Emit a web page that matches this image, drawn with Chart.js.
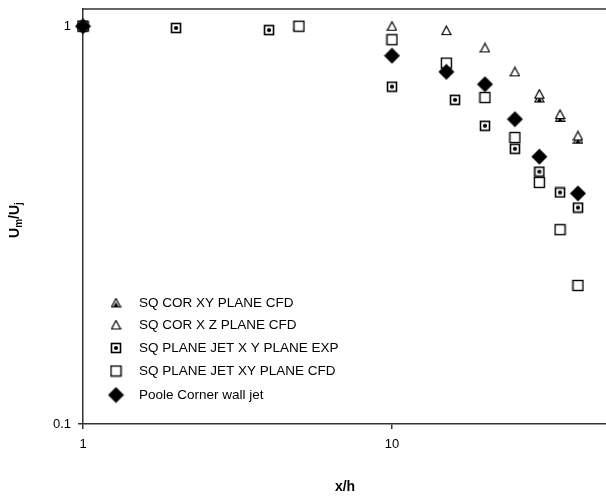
<!DOCTYPE html>
<html>
<head>
<meta charset="utf-8">
<script src="https://cdn.jsdelivr.net/npm/chart.js@4.4.1/dist/chart.umd.min.js"></script>
<style>
  body { margin: 0; background: #fff; }
  #wrap { width: 606px; height: 498px; }
</style>
</head>
<body>
<div id="wrap"><canvas id="jetChart" width="606" height="498"></canvas></div>
<script>
// series values
const corXyX = [1, 30, 35, 40];
const corXyY = [1.0, 0.66, 0.59, 0.52];
const corXzX = [1, 5, 10, 15, 20, 25, 30, 35, 40];
const corXzY = [1.0, 1.0, 1.0, 0.975, 0.882, 0.768, 0.675, 0.6, 0.53];
const jetExpX = [1, 2, 4, 10, 16, 20, 25, 30, 35, 40];
const jetExpY = [1.0, 0.99, 0.978, 0.705, 0.653, 0.562, 0.492, 0.431, 0.382, 0.35];
const jetCfdX = [1, 5, 10, 15, 20, 25, 30, 35, 40];
const jetCfdY = [1.0, 1.0, 0.925, 0.808, 0.662, 0.525, 0.405, 0.308, 0.223];
const pooleX = [1, 10, 15, 20, 25, 30, 40];
const pooleY = [1.0, 0.843, 0.768, 0.715, 0.584, 0.47, 0.38];
const seriesNames = [
  "SQ COR XY PLANE CFD",
  "SQ COR X Z PLANE CFD",
  "SQ PLANE JET X Y PLANE EXP",
  "SQ PLANE JET XY PLANE CFD",
  "Poole Corner wall jet"
];
const xTicks = [1, 10];
const yTicks = [0.1, 1];

const FONT = "'Liberation Sans', Arial, sans-serif";

function toPoints(xs, ys) {
  return xs.map((x, i) => ({x: x, y: ys[i]}));
}

// little marker images
function marker(size, draw) {
  const c = document.createElement("canvas");
  c.width = size; c.height = size;
  const g = c.getContext("2d");
  draw(g, size);
  return c;
}

const triOpen = marker(11, (g) => {
  g.beginPath();
  g.moveTo(5.5, 1); g.lineTo(10, 9.5); g.lineTo(1, 9.5); g.closePath();
  g.fillStyle = "#fff"; g.fill();
  g.lineWidth = 1.2; g.strokeStyle = "#000"; g.stroke();
});
const triXy = marker(11, (g) => {
  g.beginPath();
  g.moveTo(5.5, 1); g.lineTo(10, 9.5); g.lineTo(1, 9.5); g.closePath();
  g.fillStyle = "#fff"; g.fill();
  g.lineWidth = 1.2; g.strokeStyle = "#000"; g.stroke();
  g.beginPath();
  g.moveTo(5.5, 4.5); g.lineTo(8, 9); g.lineTo(3, 9); g.closePath();
  g.fillStyle = "#000"; g.fill();
});
const sqDot = marker(12, (g) => {
  g.fillStyle = "#fff"; g.fillRect(1, 1, 10, 10);
  g.lineWidth = 1.6; g.strokeStyle = "#000"; g.strokeRect(1.5, 1.5, 9, 9);
  g.beginPath(); g.arc(6, 6, 2.1, 0, Math.PI * 2); g.fillStyle = "#000"; g.fill();
});
const sqOpen = marker(13, (g) => {
  g.fillStyle = "#fff"; g.fillRect(1, 1, 11, 11);
  g.lineWidth = 1.4; g.strokeStyle = "#000"; g.strokeRect(1.5, 1.5, 10, 10);
});
const diamond = marker(17, (g) => {
  g.beginPath();
  g.moveTo(8.5, 0.5); g.lineTo(16.5, 8.5); g.lineTo(8.5, 16.5); g.lineTo(0.5, 8.5); g.closePath();
  g.fillStyle = "#000"; g.fill();
});
const markers = [triXy, triOpen, sqDot, sqOpen, diamond];

// legend, frame and the y title with subscripts
const extras = {
  id: "extras",
  afterDraw(chart) {
    const ctx = chart.ctx;
    const a = chart.chartArea;
    ctx.save();
    ctx.strokeStyle = "#333";
    ctx.lineWidth = 1.5;
    ctx.beginPath();
    ctx.moveTo(a.left, a.top); ctx.lineTo(a.right, a.top);
    ctx.stroke();

    const rows = [303, 325, 348, 371, 395];
    ctx.font = "13.5px " + FONT;
    ctx.fillStyle = "#000";
    ctx.textBaseline = "middle";
    ctx.textAlign = "left";
    chart.data.datasets.forEach((ds, i) => {
      const m = markers[i];
      ctx.drawImage(m, 116 - m.width / 2, rows[i] - m.height / 2);
      ctx.fillText(ds.label, 139, rows[i]);
    });

    // x title
    ctx.font = "bold 14px " + FONT;
    ctx.textAlign = "center";
    ctx.fillText("x/h", 345, 487);

    // y title, rotated
    ctx.translate(15, 220);
    ctx.rotate(-Math.PI / 2);
    ctx.textAlign = "left";
    ctx.textBaseline = "middle";
    const parts = [["U", false], ["m", true], ["/U", false], ["j", true]];
    const big = "bold 14px " + FONT, small = "bold 10px " + FONT;
    let w = 0;
    parts.forEach(p => { ctx.font = p[1] ? small : big; w += ctx.measureText(p[0]).width; });
    let x = -w / 2;
    parts.forEach(p => {
      ctx.font = p[1] ? small : big;
      ctx.fillText(p[0], x, p[1] ? 4 : 0);
      x += ctx.measureText(p[0]).width;
    });
    ctx.restore();
  }
};

const xs = [corXyX, corXzX, jetExpX, jetCfdX, pooleX];
const ys = [corXyY, corXzY, jetExpY, jetCfdY, pooleY];
const drawOrder = [4, 3, 2, 1, 0];

new Chart("jetChart", {
  type: "scatter",
  data: {
    datasets: seriesNames.map((name, i) => ({
      label: name,
      data: toPoints(xs[i], ys[i]),
      pointStyle: markers[i],
      pointRadius: 6,
      clip: false,
      order: drawOrder[i]
    }))
  },
  options: {
    responsive: false,
    animation: false,
    layout: { autoPadding: false, padding: { top: 9, right: 0, left: 0, bottom: 0 } },
    plugins: {
      legend: { display: false },
      tooltip: { enabled: false }
    },
    scales: {
      x: {
        type: "logarithmic",
        min: 1,
        max: 49.3,
        afterBuildTicks: (s) => { s.ticks = xTicks.map(v => ({value: v})); },
        afterFit: (s) => { s.height = 74; s.paddingLeft = 0; s.paddingRight = 0; },
        ticks: {
          callback: (v) => String(v),
          color: "#000",
          font: { size: 13, family: FONT },
          padding: 8,
          maxRotation: 0
        },
        grid: { display: true, drawOnChartArea: false, drawTicks: true, tickLength: 5, color: "#333", lineWidth: 1.5 },
        border: { display: true, color: "#333", width: 1.5 }
      },
      y: {
        type: "logarithmic",
        min: 0.1,
        max: 1.105,
        afterBuildTicks: (s) => { s.ticks = yTicks.map(v => ({value: v})); },
        afterFit: (s) => { s.width = 83; s.paddingTop = 0; s.paddingBottom = 0; },
        ticks: {
          callback: (v) => String(v),
          color: "#000",
          font: { size: 13, family: FONT },
          padding: 7
        },
        grid: { display: true, drawOnChartArea: false, drawTicks: true, tickLength: 5, color: "#333", lineWidth: 1.5 },
        border: { display: true, color: "#333", width: 1.5 }
      }
    }
  },
  plugins: [extras]
});
</script>
</body>
</html>
